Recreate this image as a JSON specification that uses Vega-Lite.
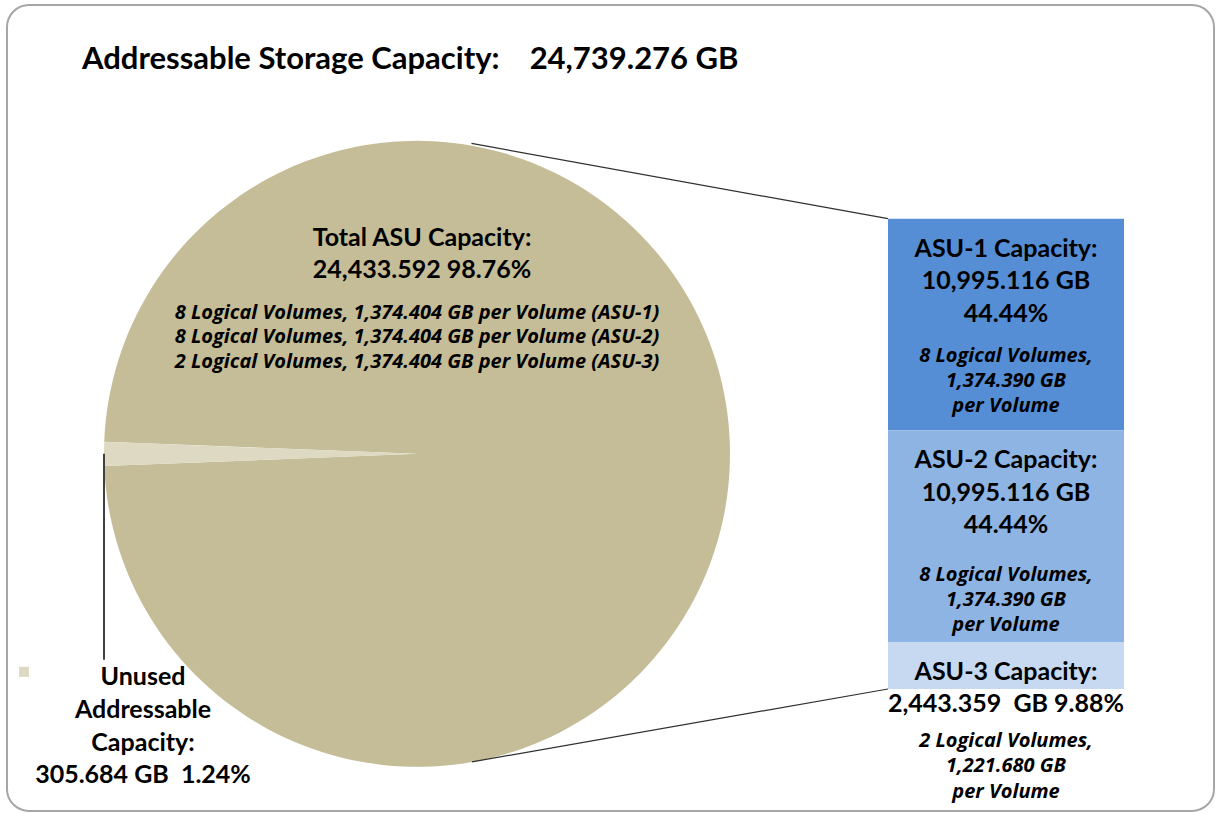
{
  "$schema": "https://vega.github.io/schema/vega-lite/v6.json",
  "width": 1207,
  "height": 806,
  "padding": {"left": 7, "top": 5, "right": 3, "bottom": 2},
  "autosize": {"type": "none"},
  "background": "white",
  "config": {
    "view": {"stroke": "#A6A6A6", "strokeWidth": 2, "cornerRadius": 22, "fill": "white"},
    "font": "Lato",
    "text": {"font": "Lato", "color": "black"}
  },
  "title": {
    "text": "Addressable Storage Capacity:\u00a0\u00a0\u00a0 24,739.276 GB",
    "anchor": "start",
    "frame": "group",
    "orient": "top",
    "offset": -95,
    "dx": 75,
    "baseline": "alphabetic",
    "font": "Lato",
    "fontSize": 31,
    "fontWeight": "bold",
    "color": "black"
  },
  "datasets": {
    "pie": [
      {"segment": "Total ASU Capacity", "rank": 1, "gb": 24433.592, "pct": 98.76,
       "head": "Total ASU Capacity:\n24,433.592 98.76%",
       "note": "8 Logical Volumes, 1,374.404 GB per Volume (ASU-1)\n8 Logical Volumes, 1,374.404 GB per Volume (ASU-2)\n2 Logical Volumes, 1,374.404 GB per Volume (ASU-3)"},
      {"segment": "Unused Addressable Capacity", "rank": 2, "gb": 305.684, "pct": 1.24,
       "head": "Unused\nAddressable\nCapacity:\n305.684 GB\u00a0 1.24%",
       "note": ""}
    ],
    "bar": [
      {"asu": "ASU-1", "gb": 10995.116, "pct": 44.44, "volumes": 8, "per_volume": 1374.390,
       "head": "ASU-1 Capacity:\n10,995.116 GB\n44.44%",
       "note": "8 Logical Volumes,\n1,374.390 GB\nper Volume"},
      {"asu": "ASU-2", "gb": 10995.116, "pct": 44.44, "volumes": 8, "per_volume": 1374.390,
       "head": "ASU-2 Capacity:\n10,995.116 GB\n44.44%",
       "note": "8 Logical Volumes,\n1,374.390 GB\nper Volume"},
      {"asu": "ASU-3", "gb": 2443.359, "pct": 9.88, "volumes": 2, "per_volume": 1221.680,
       "head": "ASU-3 Capacity:\n2,443.359\u00a0 GB 9.88%",
       "note": "2 Logical Volumes,\n1,221.680 GB\nper Volume"}
    ]
  },
  "layer": [
    {
      "data": {"name": "bar"},
      "transform": [{"stack": "gb", "groupby": [], "sort": [{"field": "asu", "order": "descending"}], "as": ["lo", "hi"]}],
      "mark": {"type": "bar", "width": 236},
      "encoding": {
        "x": {"datum": 1, "type": "quantitative", "stack": false,
              "scale": {"domain": [0, 1], "range": [410, 999], "nice": false, "zero": false, "padding": 0},
              "axis": null},
        "y": {"field": "lo", "type": "quantitative", "stack": false,
              "scale": {"domain": [0, 24433.592], "range": [684, 213.7], "nice": false, "zero": true, "padding": 0},
              "axis": null},
        "y2": {"field": "hi"},
        "color": {"field": "asu", "type": "nominal",
                  "scale": {"domain": ["Total ASU Capacity", "Unused Addressable Capacity", "ASU-1", "ASU-2", "ASU-3"],
                            "range": ["#C4BD97", "#DDD9C3", "#558ED5", "#8EB4E3", "#C6D9F1"]},
                  "legend": null}
      }
    },
    {
      "data": {"name": "pie"},
      "transform": [{"stack": "gb", "groupby": [], "sort": [{"field": "rank", "order": "ascending"}], "as": ["t0", "t1"]}],
      "mark": {"type": "arc", "radius": 313},
      "encoding": {
        "x": {"datum": 0, "type": "quantitative", "stack": false},
        "y": {"datum": 12216.796, "type": "quantitative", "stack": false},
        "theta": {"field": "t0", "type": "quantitative", "stack": false,
                  "scale": {"domain": [0, 24739.276], "range": [-1.532, 4.751]}},
        "theta2": {"field": "t1"},
        "color": {"field": "segment", "type": "nominal", "legend": null}
      }
    },
    {
      "data": {"name": "pie"},
      "transform": [{"filter": "datum.segment === 'Total ASU Capacity'"}],
      "mark": {"type": "rule", "color": "#303030", "strokeWidth": 1.2, "xOffset": -118},
      "encoding": {
        "x": {"datum": 1, "type": "quantitative", "stack": false},
        "y": {"field": "gb", "type": "quantitative", "stack": false},
        "x2": {"value": {"expr": "scale('x', 0) + 54.5"}},
        "y2": {"value": {"expr": "scale('y', 12216.796) - 310.4"}}
      }
    },
    {
      "data": {"name": "pie"},
      "transform": [{"filter": "datum.segment === 'Total ASU Capacity'"}],
      "mark": {"type": "rule", "color": "#303030", "strokeWidth": 1.2, "xOffset": -118},
      "encoding": {
        "x": {"datum": 1, "type": "quantitative", "stack": false},
        "y": {"datum": 0, "type": "quantitative", "stack": false},
        "x2": {"value": {"expr": "scale('x', 0) + 55"}},
        "y2": {"value": {"expr": "scale('y', 12216.796) + 308"}}
      }
    },
    {
      "data": {"name": "pie"},
      "transform": [{"filter": "datum.segment === 'Unused Addressable Capacity'"}],
      "mark": {"type": "rule", "color": "#404040", "strokeWidth": 2, "xOffset": -313},
      "encoding": {
        "x": {"datum": 0, "type": "quantitative", "stack": false},
        "y": {"datum": 12216.796, "type": "quantitative", "stack": false},
        "y2": {"value": {"expr": "scale('y', 12216.796) + 206"}}
      }
    },
    {
      "data": {"name": "pie"},
      "transform": [{"filter": "datum.segment === 'Unused Addressable Capacity'"}],
      "mark": {"type": "point", "shape": "square", "filled": true, "opacity": 1, "size": 100, "xOffset": -393, "yOffset": 218},
      "encoding": {
        "x": {"datum": 0, "type": "quantitative", "stack": false},
        "y": {"datum": 12216.796, "type": "quantitative", "stack": false},
        "color": {"field": "segment", "type": "nominal", "legend": null}
      }
    },
    {
      "data": {"name": "pie"},
      "transform": [{"filter": "datum.segment === 'Total ASU Capacity'"}],
      "mark": {"type": "text", "align": "center", "baseline": "alphabetic", "fontSize": 25, "fontWeight": "bold",
               "lineBreak": "\n", "lineHeight": 32, "xOffset": 5, "yOffset": -208},
      "encoding": {
        "x": {"datum": 0, "type": "quantitative", "stack": false},
        "y": {"datum": 12216.796, "type": "quantitative", "stack": false},
        "text": {"field": "head", "type": "nominal"}
      }
    },
    {
      "data": {"name": "pie"},
      "transform": [{"filter": "datum.segment === 'Total ASU Capacity'"}],
      "mark": {"type": "text", "align": "center", "baseline": "alphabetic", "font": "Open Sans", "fontSize": 20, "fontWeight": "bold", "fontStyle": "italic",
               "lineBreak": "\n", "lineHeight": 24.5, "xOffset": 0, "yOffset": -135},
      "encoding": {
        "x": {"datum": 0, "type": "quantitative", "stack": false},
        "y": {"datum": 12216.796, "type": "quantitative", "stack": false},
        "text": {"field": "note", "type": "nominal"}
      }
    },
    {
      "data": {"name": "pie"},
      "transform": [{"filter": "datum.segment === 'Unused Addressable Capacity'"}],
      "mark": {"type": "text", "align": "center", "baseline": "alphabetic", "fontSize": 25, "fontWeight": "bold",
               "lineBreak": "\n", "lineHeight": 32.7, "xOffset": -274, "yOffset": 231.5},
      "encoding": {
        "x": {"datum": 0, "type": "quantitative", "stack": false},
        "y": {"datum": 12216.796, "type": "quantitative", "stack": false},
        "text": {"field": "head", "type": "nominal"}
      }
    },
    {
      "data": {"name": "bar"},
      "transform": [{"stack": "gb", "groupby": [], "sort": [{"field": "asu", "order": "descending"}], "as": ["lo", "hi"]}],
      "mark": {"type": "text", "align": "center", "baseline": "alphabetic", "fontSize": 25, "fontWeight": "bold",
               "lineBreak": "\n", "lineHeight": 32.5, "yOffset": 38},
      "encoding": {
        "x": {"datum": 1, "type": "quantitative", "stack": false},
        "y": {"field": "hi", "type": "quantitative", "stack": false},
        "text": {"field": "head", "type": "nominal"}
      }
    },
    {
      "data": {"name": "bar"},
      "transform": [{"stack": "gb", "groupby": [], "sort": [{"field": "asu", "order": "descending"}], "as": ["lo", "hi"]},
                    {"filter": "datum.asu === 'ASU-1'"}],
      "mark": {"type": "text", "align": "center", "baseline": "alphabetic", "font": "Open Sans", "fontSize": 20, "fontWeight": "bold", "fontStyle": "italic",
               "lineBreak": "\n", "lineHeight": 25, "yOffset": 143},
      "encoding": {
        "x": {"datum": 1, "type": "quantitative", "stack": false},
        "y": {"field": "hi", "type": "quantitative", "stack": false},
        "text": {"field": "note", "type": "nominal"}
      }
    },
    {
      "data": {"name": "bar"},
      "transform": [{"stack": "gb", "groupby": [], "sort": [{"field": "asu", "order": "descending"}], "as": ["lo", "hi"]},
                    {"filter": "datum.asu === 'ASU-2'"}],
      "mark": {"type": "text", "align": "center", "baseline": "alphabetic", "font": "Open Sans", "fontSize": 20, "fontWeight": "bold", "fontStyle": "italic",
               "lineBreak": "\n", "lineHeight": 25, "yOffset": 151},
      "encoding": {
        "x": {"datum": 1, "type": "quantitative", "stack": false},
        "y": {"field": "hi", "type": "quantitative", "stack": false},
        "text": {"field": "note", "type": "nominal"}
      }
    },
    {
      "data": {"name": "bar"},
      "transform": [{"stack": "gb", "groupby": [], "sort": [{"field": "asu", "order": "descending"}], "as": ["lo", "hi"]},
                    {"filter": "datum.asu === 'ASU-3'"}],
      "mark": {"type": "text", "align": "center", "baseline": "alphabetic", "font": "Open Sans", "fontSize": 20, "fontWeight": "bold", "fontStyle": "italic",
               "lineBreak": "\n", "lineHeight": 25.5, "yOffset": 105},
      "encoding": {
        "x": {"datum": 1, "type": "quantitative", "stack": false},
        "y": {"field": "hi", "type": "quantitative", "stack": false},
        "text": {"field": "note", "type": "nominal"}
      }
    }
  ]
}
